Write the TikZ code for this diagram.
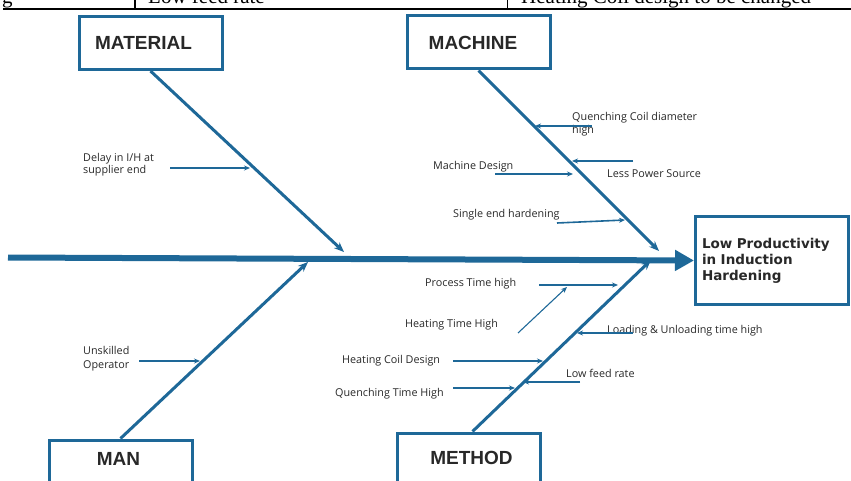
\documentclass[tikz,border=0pt]{standalone}
\usepackage{fontspec}
\setmainfont{Open Sans}
\newfontfamily\boxfont{Liberation Sans}
\newfontfamily\effectfont{DejaVu Sans}
\newfontfamily\tablefont{Liberation Serif}
\usetikzlibrary{arrows.meta}
\definecolor{fishblue}{RGB}{30,104,152}
\definecolor{ink}{RGB}{40,40,40}
\begin{document}
\begin{tikzpicture}[x=1pt,y=-1pt,
  catbox/.style={draw=fishblue, line width=3pt, minimum width=143pt, inner sep=0pt,
    font=\boxfont\bfseries\fontsize{19}{19}\selectfont, text=ink},
  bone/.style={draw=fishblue, line width=3pt, -{Stealth[length=10pt,width=8pt]}},
  spine/.style={draw=fishblue, line width=6pt, -{Triangle[length=19pt,width=20pt]}},
  cause/.style={draw=fishblue, line width=1.6pt, -{Stealth[length=6pt,width=5pt]}},
  thincause/.style={draw=fishblue, line width=1.1pt, -{Stealth[length=6pt,width=5pt]}},
  lbl/.style={font=\fontsize{10.8}{12}\selectfont, inner sep=0pt, anchor=west, text=ink, align=left, yshift=-1.5pt},
  tbl/.style={font=\tablefont\fontsize{21}{21}\selectfont, inner sep=0pt, anchor=base west},
]
\useasboundingbox (0,0) rectangle (851,481);
\clip (0,0) rectangle (851,481);

% table fragment at top
\node[tbl] (t1) at (2,3.5) {g};
\node[tbl] (t2) at (148,3.5) {Low feed rate};
\node[tbl] (t3) at (521,3.5) {Heating Coil design to be changed};
\coordinate (tl) at (3,9);
\coordinate (tr) at (851,9);
\coordinate (v1a) at (135,-1);
\coordinate (v1b) at (135,9);
\coordinate (v2a) at (507.5,-1);
\coordinate (v2b) at (507.5,9);
\draw[line width=1.5pt] (tl) -- (tr);
\draw[line width=1.5pt] (v1a) -- (v1b);
\draw[line width=1.5pt] (v2a) -- (v2b);

% category boxes
\node[catbox, minimum height=53pt] (material) at (150.5,43) {MATERIAL\hspace*{14pt}};
\node[catbox, minimum height=53pt] (machine) at (478.5,42.5) {MACHINE\hspace*{11pt}};
\node[catbox, anchor=north, text height=25.6pt, text depth=40pt] (man) at (120.5,438.5) {MAN\hspace*{4pt}};
\node[catbox, anchor=north, text height=31.6pt, text depth=40pt] (method) at (468.5,431.5) {\hspace*{6pt}METHOD};

% effect box
\node[draw=fishblue, line width=3pt, minimum width=153pt, minimum height=88pt,
  text width=140pt, inner xsep=6.5pt, align=left, text=ink,
  font=\effectfont\bfseries\fontsize{13.5}{16}\selectfont] (effect) at (772,260.5)
  {Low Productivity\\in Induction\\Hardening};

% spine
\coordinate (spinestart) at (8,257.5);
\draw[spine] (spinestart) -- (effect.west);

% bones
\coordinate (mattip) at (344,252);
\coordinate (machtip) at (659,251);
\coordinate (mantip) at (308,262);
\coordinate (methtip) at (651,260);
\draw[bone] (material.south) -- (mattip);
\draw[bone] (machine.south) -- (machtip);
\draw[bone] (man.north) -- (mantip);
\draw[bone] ([xshift=4pt]method.north) -- (methtip);

% labels
\node[lbl, anchor=north west] (delay) at (83,152) {Delay in I/H at\\supplier end};
\node[lbl, anchor=north west, font=\fontsize{10.8}{13}\selectfont] (qcoil) at (572,111) {Quenching Coil diameter\\high};
\node[lbl] (mdesign) at (433,165) {Machine Design};
\node[lbl] (lpower) at (607,172) {Less Power Source};
\node[lbl] (single) at (453,213) {Single end hardening};
\node[lbl] (process) at (425,282) {Process Time high};
\node[lbl] (htime) at (405,323) {Heating Time High};
\node[lbl] (loading) at (607,329) {Loading \& Unloading time high};
\node[lbl] (hcoil) at (342,359) {Heating Coil Design};
\node[lbl] (lfeed) at (566,372) {Low feed rate};
\node[lbl] (qtime) at (335,392) {Quenching Time High};
\node[lbl, anchor=north west, font=\fontsize{10.8}{14}\selectfont] (unsk) at (83,345) {Unskilled\\Operator};

% cause arrows
\coordinate (delayA) at (170,168);   \coordinate (delayB) at (250,168);
\coordinate (qcoilA) at (592,126);   \coordinate (qcoilB) at (535,126);
\coordinate (mdesA) at (495,174);    \coordinate (mdesB) at (573,174);
\coordinate (lpowA) at (633,161);    \coordinate (lpowB) at (572,161);
\coordinate (singA) at (557,223);    \coordinate (singB) at (625,220);
\coordinate (procA) at (539,285);    \coordinate (procB) at (618,285);
\coordinate (htimA) at (518,333);    \coordinate (htimB) at (567,287);
\coordinate (loadA) at (633,333);    \coordinate (loadB) at (577,333);
\coordinate (hcoiA) at (453,361);    \coordinate (hcoiB) at (543,361);
\coordinate (lfeeA) at (580,382);    \coordinate (lfeeB) at (523,382);
\coordinate (qtimA) at (453,388);    \coordinate (qtimB) at (515,388);
\coordinate (unskA) at (139,361);    \coordinate (unskB) at (200,361);
\draw[cause] (delayA) -- (delayB);
\draw[cause] (qcoilA) -- (qcoilB);
\draw[cause] (mdesA) -- (mdesB);
\draw[cause] (lpowA) -- (lpowB);
\draw[cause] (singA) -- (singB);
\draw[cause] (procA) -- (procB);
\draw[thincause] (htimA) -- (htimB);
\draw[cause] (loadA) -- (loadB);
\draw[cause] (hcoiA) -- (hcoiB);
\draw[cause] (lfeeA) -- (lfeeB);
\draw[cause] (qtimA) -- (qtimB);
\draw[cause] (unskA) -- (unskB);
\end{tikzpicture}
\end{document}
